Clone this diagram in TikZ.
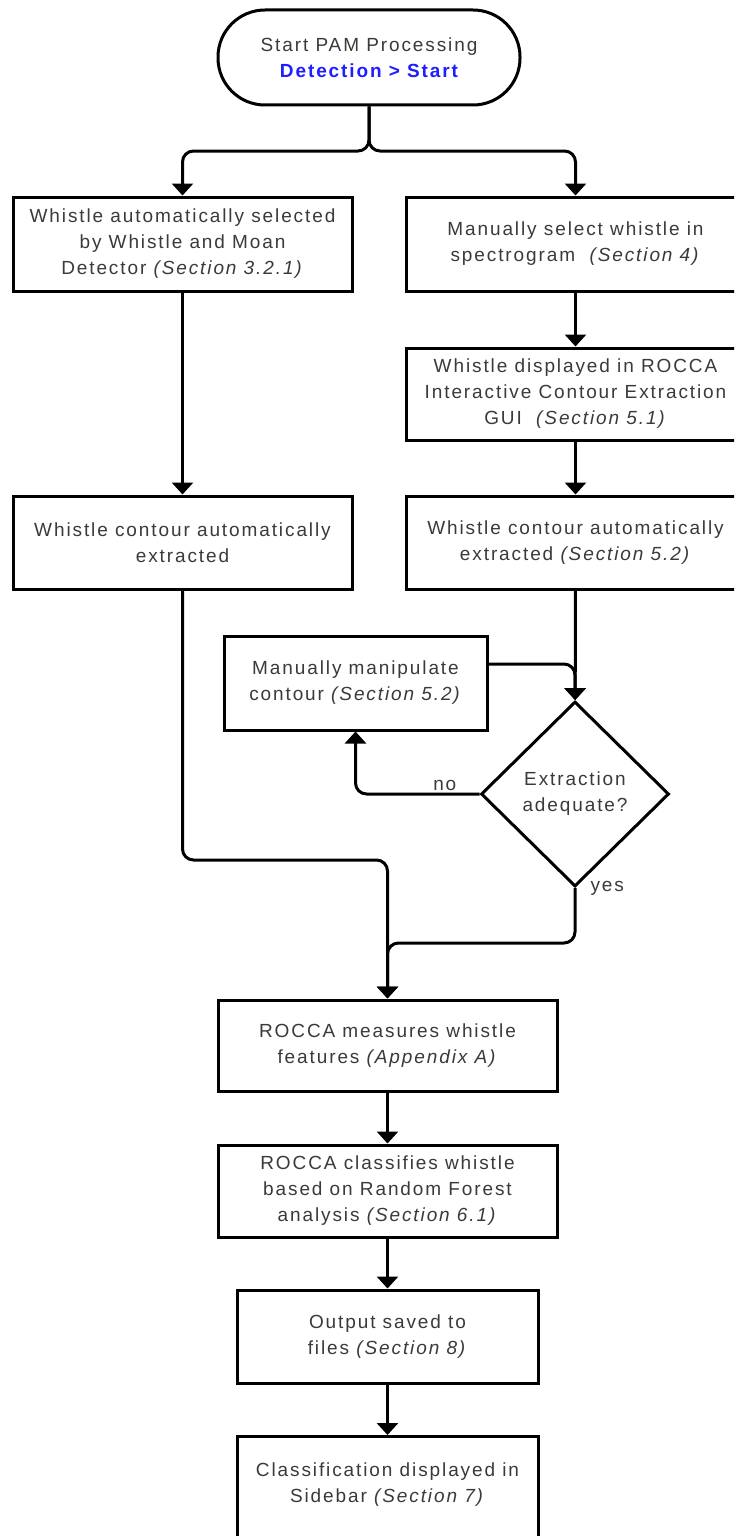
\documentclass[tikz,border=0pt]{standalone}
\usepackage{fontspec}
\setmainfont{Liberation Sans}[LetterSpace=10]
\usetikzlibrary{arrows.meta,shapes.geometric}
\definecolor{txt}{HTML}{3A3A3A}
\definecolor{bl}{HTML}{1E1EFF}
\begin{document}
\begin{tikzpicture}[x=1pt,y=-1pt,
  every node/.style={font=\fontsize{19}{26}\selectfont, text=txt},
  box/.style={draw=black, line width=3pt, fill=white, align=center, minimum width=339pt, minimum height=94pt, inner sep=0pt},
  term/.style={draw=black, line width=3pt, fill=white, align=center, rounded corners=47pt, minimum width=302pt, minimum height=95pt, inner sep=0pt},
  dia/.style={draw=black, diamond, line width=3pt, fill=white, align=center, minimum width=188pt, minimum height=185pt, inner sep=0pt},
  conn/.style={draw=black, line width=3pt, rounded corners=11pt, -{Triangle[width=21pt,length=12pt]}},
  lab/.style={inner sep=2pt}
]
\useasboundingbox (0,0) rectangle (734,1536);
\clip (0,0) rectangle (734,1536);

\node[term] (T) at (369,57.5) {Start PAM Processing\\ {\bfseries\color{bl}Detection > Start}};
\node[box] (A) at (182.5,244) {Whistle automatically selected\\ by Whistle and Moan\\ Detector \textit{(Section 3.2.1)}};
\node[box] (B) at (575.5,244) {Manually select whistle in\\ spectrogram~ \textit{(Section 4)}};
\node[box, minimum height=92pt] (C) at (575.5,394) {Whistle displayed in ROCCA\\ Interactive Contour Extraction\\ GUI~ \textit{(Section 5.1)}};
\node[box, minimum height=93pt] (D) at (182.5,542.5) {Whistle contour automatically\\ extracted};
\node[box, minimum height=93pt] (R) at (575.5,542.5) {Whistle contour automatically\\ extracted \textit{(Section 5.2)}};
\node[box, minimum width=263pt] (M) at (355.5,683) {Manually manipulate\\ contour \textit{(Section 5.2)}};
\node[dia] (Q) at (575,794) {Extraction\\ adequate?};
\node[box, minimum height=91pt] (E) at (387.5,1045.5) {ROCCA measures whistle\\ features \textit{(Appendix A)}};
\node[box, minimum height=92pt] (F) at (387.5,1191) {ROCCA classifies whistle\\ based on Random Forest\\ analysis \textit{(Section 6.1)}};
\node[box, minimum width=301pt, minimum height=93pt] (G) at (387.5,1336.5) {Output saved to\\ files \textit{(Section 8)}};
\node[box, minimum width=301pt, minimum height=0pt, anchor=north] (H) at (387.5,1435) {\rule{0pt}{40pt}Classification displayed in\\ Sidebar \textit{(Section 7)}\rule[-60pt]{0pt}{60pt}};

\coordinate (split) at (369,151);
\draw[conn] (T.south) -- (split) -- (split -| A.north) -- (A.north);
\draw[conn] (T.south) -- (split) -- (split -| B.north) -- (B.north);
\draw[conn] (A) -- (D);
\draw[conn] (B) -- (C);
\draw[conn] (C) -- (R);
\draw[conn] (R) -- (Q);
\draw[conn] ([yshift=19pt]M.east) -| (Q.north);
\draw[conn] (Q.west) -| node[lab, pos=0.14, anchor=south] {no} (M.south);
\coordinate (yesturn) at (575,943);
\draw[conn] (Q.south) node[lab, anchor=west, xshift=12pt] {yes} -- (yesturn) -- (yesturn -| E.north) -- (E.north);
\coordinate (dturn) at (182.5,860);
\draw[conn] (D.south) -- (dturn) -- (dturn -| E.north) -- (E.north);
\draw[conn] (E) -- (F);
\draw[conn] (F) -- (G);
\draw[conn] (G) -- (H);
\end{tikzpicture}
\end{document}
